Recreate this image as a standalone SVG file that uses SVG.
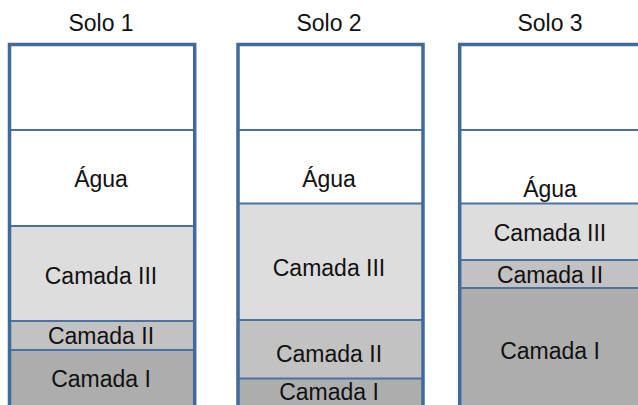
<svg xmlns="http://www.w3.org/2000/svg" width="638" height="405" viewBox="0 0 638 405">
<style>
.bg{fill:#ffffff}
.l3{fill:#dddddd}
.l2{fill:#c2c2c2}
.l1{fill:#adadad}
.div{stroke:#4a72a2;stroke-width:2;fill:none}
.frame{fill:none;stroke:#41699a;stroke-width:3.5}
.t{font-family:"Liberation Sans",Arial,sans-serif;font-size:23px;fill:#111111;text-anchor:middle}
</style>
<rect width="638" height="405" fill="#ffffff"/>
<g id="solo1">
  <rect class="bg" x="9.5" y="44.5" width="185.2" height="181.5"/>
  <rect class="l3" x="9.5" y="226" width="185.2" height="95"/>
  <rect class="l2" x="9.5" y="321" width="185.2" height="29"/>
  <rect class="l1" x="9.5" y="350" width="185.2" height="70"/>
  <line class="div" x1="9.5" y1="130" x2="194.7" y2="130"/>
  <line class="div" x1="9.5" y1="226" x2="194.7" y2="226"/>
  <line class="div" x1="9.5" y1="321" x2="194.7" y2="321"/>
  <line class="div" x1="9.5" y1="350" x2="194.7" y2="350"/>
  <path class="frame" d="M9.5 420 V44.5 H194.7 V420"/>
  <text class="t" x="101" y="31">Solo 1</text>
  <text class="t" x="101" y="187">Água</text>
  <text class="t" x="101" y="283.5">Camada III</text>
  <text class="t" x="101" y="344">Camada II</text>
  <text class="t" x="101" y="386.5">Camada I</text>
</g>
<g id="solo2">
  <rect class="bg" x="238" y="44.5" width="185" height="159"/>
  <rect class="l3" x="238" y="203.5" width="185" height="116.5"/>
  <rect class="l2" x="238" y="320" width="185" height="58.5"/>
  <rect class="l1" x="238" y="378.5" width="185" height="40"/>
  <line class="div" x1="238" y1="130" x2="423" y2="130"/>
  <line class="div" x1="238" y1="203.5" x2="423" y2="203.5"/>
  <line class="div" x1="238" y1="320" x2="423" y2="320"/>
  <line class="div" x1="238" y1="378.5" x2="423" y2="378.5"/>
  <path class="frame" d="M238 420 V44.5 H423 V420"/>
  <text class="t" x="329" y="31">Solo 2</text>
  <text class="t" x="329" y="187">Água</text>
  <text class="t" x="329" y="276">Camada III</text>
  <text class="t" x="329" y="361.5">Camada II</text>
  <text class="t" x="329" y="400">Camada I</text>
</g>
<g id="solo3">
  <rect class="bg" x="459.7" y="44.5" width="185.2" height="159"/>
  <rect class="l3" x="459.7" y="203.5" width="185.2" height="56.5"/>
  <rect class="l2" x="459.7" y="260" width="185.2" height="28"/>
  <rect class="l1" x="459.7" y="288" width="185.2" height="132"/>
  <line class="div" x1="459.7" y1="130" x2="644.9" y2="130"/>
  <line class="div" x1="459.7" y1="203.5" x2="644.9" y2="203.5"/>
  <line class="div" x1="459.7" y1="260" x2="644.9" y2="260"/>
  <line class="div" x1="459.7" y1="288" x2="644.9" y2="288"/>
  <path class="frame" d="M459.7 420 V44.5 H644.9 V420"/>
  <text class="t" x="550" y="31">Solo 3</text>
  <text class="t" x="550" y="197">Água</text>
  <text class="t" x="550" y="240.5">Camada III</text>
  <text class="t" x="550" y="283.3">Camada II</text>
  <text class="t" x="550" y="359.3">Camada I</text>
</g>
</svg>
